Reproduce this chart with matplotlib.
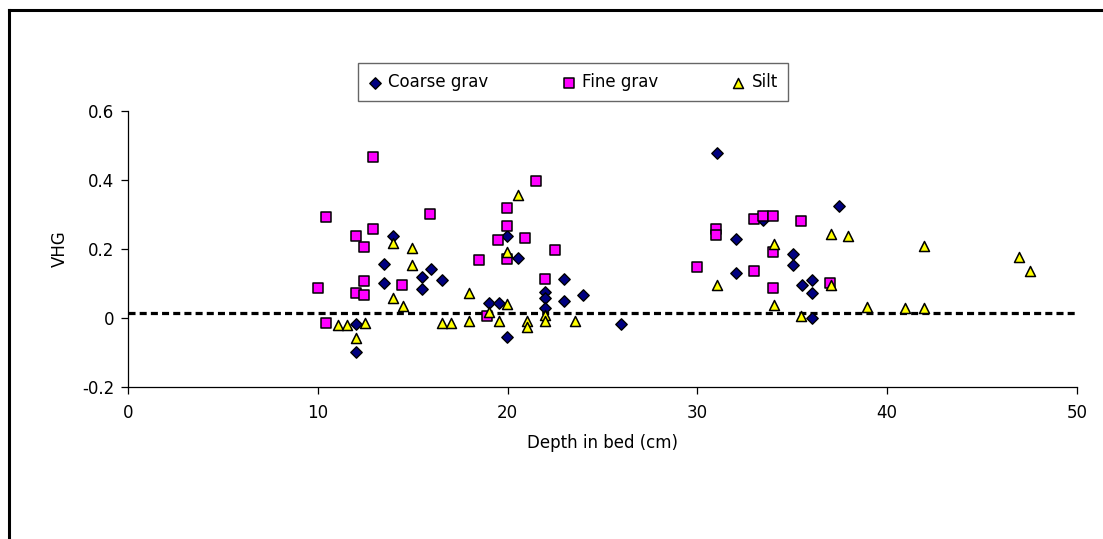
import numpy as np
import matplotlib.pyplot as plt
from matplotlib.lines import Line2D

# depth in bed (cm) and VHG values
coarse_x = [13.97, 13.51, 13.51, 15.97, 15.51, 15.51, 16.53, 12.04, 12.04,
            19.98, 20.55, 19.0, 19.53, 19.98, 22.99, 22.99, 23.98, 21.98,
            21.98, 21.98, 25.99,
            31.02, 37.48, 33.47, 32.02, 32.02, 35.02, 35.02, 35.49, 36.04,
            36.04, 36.04]
coarse_y = [0.239, 0.156, 0.101, 0.143, 0.119, 0.083, 0.109, -0.017, -0.098,
            0.239, 0.173, 0.044, 0.044, -0.056, 0.113, 0.050, 0.068, 0.074,
            0.058, 0.028, -0.017,
            0.479, 0.325, 0.284, 0.229, 0.130, 0.185, 0.155, 0.095, 0.109,
            0.073, -0.001]

fine_x = [12.91, 10.46, 11.99, 12.91, 12.46, 15.93, 12.46, 11.99, 12.46,
          14.45, 10.0, 10.46, 18.48, 19.95, 19.95, 19.48, 20.94, 21.5,
          19.95, 22.48, 21.95, 18.93,
          30.96, 30.96, 29.96, 32.98, 33.46, 33.98, 35.44, 32.98, 33.98,
          33.98, 37.0]
fine_y = [0.468, 0.293, 0.238, 0.257, 0.207, 0.301, 0.107, 0.072, 0.066,
          0.096, 0.086, -0.015, 0.167, 0.318, 0.268, 0.226, 0.231, 0.397,
          0.170, 0.197, 0.112, 0.006,
          0.259, 0.242, 0.147, 0.287, 0.297, 0.297, 0.281, 0.136, 0.191,
          0.086, 0.101]

silt_x = [13.97, 14.97, 14.97, 13.97, 14.5, 11.05, 11.52, 12.5, 12.04,
          16.53, 17.0, 17.98, 17.98, 19.0, 19.53, 19.98, 19.98, 20.55,
          21.0, 21.0, 21.98, 21.98, 23.53,
          31.02, 34.02, 34.02, 37.02, 37.95, 37.02, 35.46, 38.94, 40.96,
          41.94, 41.94, 46.96, 47.52]
silt_y = [0.216, 0.202, 0.154, 0.057, 0.036, -0.020, -0.020, -0.015, -0.059,
          -0.015, -0.015, 0.072, -0.008, 0.018, -0.008, 0.192, 0.042, 0.358,
          -0.008, -0.025, 0.009, -0.008, -0.008,
          0.096, 0.214, 0.037, 0.243, 0.239, 0.096, 0.007, 0.033, 0.028,
          0.028, 0.209, 0.178, 0.137]

ref_level = 0.015
x_range = [0, 50]

plt.rcParams['font.family'] = ['DejaVu Sans']
plt.rcParams['axes.unicode_minus'] = False

fig = plt.figure(figsize=(11.03, 5.39), dpi=100)
ax = fig.add_axes([0.116, 0.282, 0.8604, 0.512])

ax.plot(x_range, [ref_level, ref_level], color='black', lw=2.3,
        dashes=(2.2, 1.3), zorder=2)

ax.scatter(coarse_x, coarse_y, marker='D', s=5.8 ** 2, c='#000080',
           edgecolors='black', linewidths=1.0, label='Coarse grav', zorder=3)
ax.scatter(fine_x, fine_y, marker='s', s=7.0 ** 2, c='#FF00FF',
           edgecolors='black', linewidths=1.1, label='Fine grav', zorder=4)
ax.scatter(silt_x, silt_y, marker='^', s=7.2 ** 2, c='#FFFF00',
           edgecolors='black', linewidths=1.1, label='Silt', zorder=5)

ax.set_xlim(0, 50)
ax.set_ylim(-0.2, 0.6)
ax.set_xticks(np.arange(0, 51, 10))
ax.set_yticks([-0.2, 0, 0.2, 0.4, 0.6])
ax.set_yticklabels(['-0.2', '0', '0.2', '0.4', '0.6'])

for side in ['top', 'right']:
    ax.spines[side].set_visible(False)
for side in ['left', 'bottom']:
    ax.spines[side].set_linewidth(0.9)

ax.tick_params(direction='out', length=5, width=0.9, labelsize=12)
ax.tick_params(axis='x', pad=7)
ax.tick_params(axis='y', pad=5)

ax.set_xlabel('Depth in bed (cm)', fontsize=12, labelpad=9)
ax.set_ylabel('VHG', fontsize=12, labelpad=9)

leg = fig.legend(loc='center', bbox_to_anchor=(0.5195, 0.848), ncol=3,
                 fontsize=12, frameon=True, fancybox=False,
                 handlelength=0.8, handletextpad=0.4, columnspacing=4.4,
                 borderpad=0.6, scatterpoints=1)
leg.get_frame().set_edgecolor('#404040')
leg.get_frame().set_linewidth(1.0)

# outer chart frame (only the top and left sides fall inside the image)
fig.add_artist(Line2D([9 / 1103, 9 / 1103], [0, 1 - 10 / 539],
                      color='black', lw=2.2, transform=fig.transFigure))
fig.add_artist(Line2D([9 / 1103, 1], [1 - 10 / 539, 1 - 10 / 539],
                      color='black', lw=2.2, transform=fig.transFigure))

fig.savefig('out.png', dpi=100)
